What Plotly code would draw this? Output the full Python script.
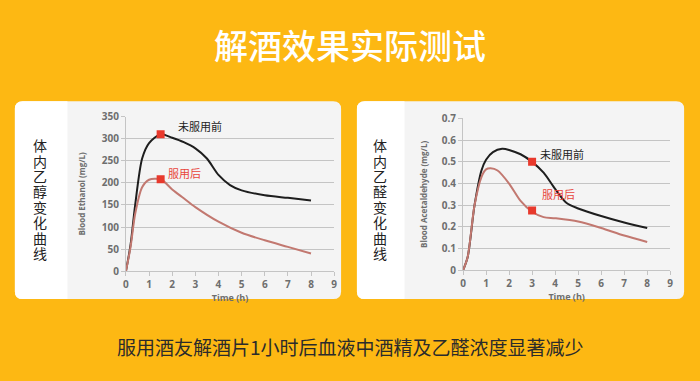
import plotly.graph_objects as go

# ---- data ----
eth_time_before = [0, 0.2, 0.4, 0.7, 1.0, 1.5, 2.0, 2.5, 3.0, 3.5, 4.0, 4.5, 5.0, 6.0, 7.0, 8.0]
eth_before = [0, 60, 150, 255, 290, 310, 302, 292, 278, 255, 218, 195, 183, 172, 166, 160]
eth_time_after = [0, 0.2, 0.4, 0.7, 1.0, 1.5, 2.0, 2.5, 3.0, 4.0, 5.0, 6.0, 7.0, 8.0]
eth_after = [0, 55, 130, 190, 207, 208, 185, 165, 145, 112, 87, 70, 55, 40]

ace_time_before = [0, 0.2, 0.5, 0.8, 1.0, 1.3, 1.7, 2.0, 2.5, 3.0, 3.5, 4.0, 4.5, 5.0, 6.0, 7.0, 8.0]
ace_before = [0, 0.06, 0.3, 0.46, 0.51, 0.545, 0.56, 0.555, 0.535, 0.5, 0.45, 0.375, 0.31, 0.285, 0.25, 0.22, 0.195]
ace_time_after = [0, 0.2, 0.5, 0.8, 1.0, 1.2, 1.5, 2.0, 2.5, 3.0, 3.5, 4.0, 5.0, 6.0, 7.0, 8.0]
ace_after = [0, 0.06, 0.3, 0.43, 0.465, 0.47, 0.46, 0.4, 0.32, 0.27, 0.245, 0.24, 0.225, 0.195, 0.16, 0.13]

eth_marker_x = [1.5, 1.5]
eth_marker_y = [310, 208]
ace_marker_x = [3, 3]
ace_marker_y = [0.5, 0.275]

x_ticks = list(range(0, 10))
eth_ticks = [0, 50, 100, 150, 200, 250, 300, 350]
ace_ticks = [0, 0.1, 0.2, 0.3, 0.4, 0.5, 0.6, 0.7]
ace_tick_text = ["0", "0.1", "0.2", "0.3", "0.4", "0.5", "0.6", "0.7"]

title_text = "解酒效果实际测试"
bottom_text = "服用酒友解酒片1小时后血液中酒精及乙醛浓度显著减少"
left_label = "体内乙醇变化曲线"
right_label = "体内乙醛变化曲线"
label_before = "未服用前"
label_after = "服用后"

# ---- style ----
ORANGE = "#FDB813"
BLACK_LINE = "#1e1e1e"
RED_LINE = "#c27870"
MARK = "#e8392c"
RED_TEXT = "#e8453c"
GRID = "#c4c4c4"
TICK = "#6e6e6e"
CJK = "Noto Sans CJK SC"

W, H = 700, 381

def px(x):
    return x / W

def py(y):
    return 1 - y / H

fig = go.Figure()

line_kw = dict(shape="spline", smoothing=0.8)
fig.add_trace(go.Scatter(x=eth_time_before, y=eth_before, mode="lines", line=dict(color=BLACK_LINE, width=2, **line_kw), xaxis="x", yaxis="y", hoverinfo="skip"))
fig.add_trace(go.Scatter(x=eth_time_after, y=eth_after, mode="lines", line=dict(color=RED_LINE, width=2, **line_kw), xaxis="x", yaxis="y", hoverinfo="skip"))
fig.add_trace(go.Scatter(x=eth_marker_x, y=eth_marker_y, mode="markers", marker=dict(symbol="square", size=8, color=MARK), xaxis="x", yaxis="y"))

fig.add_trace(go.Scatter(x=ace_time_before, y=ace_before, mode="lines", line=dict(color=BLACK_LINE, width=2, **line_kw), xaxis="x2", yaxis="y2", hoverinfo="skip"))
fig.add_trace(go.Scatter(x=ace_time_after, y=ace_after, mode="lines", line=dict(color=RED_LINE, width=2, **line_kw), xaxis="x2", yaxis="y2", hoverinfo="skip"))
fig.add_trace(go.Scatter(x=ace_marker_x, y=ace_marker_y, mode="markers", marker=dict(symbol="square", size=8, color=MARK), xaxis="x2", yaxis="y2"))

axis_common = dict(
    showline=True, linecolor=GRID, linewidth=1,
    ticks="outside", ticklen=4, tickcolor=GRID,
    tickfont=dict(family="Open Sans", size=10, color=TICK, weight="bold"),
    zeroline=False, fixedrange=True,
)
xtitle_font = dict(family="Open Sans", size=9, color=TICK, weight="bold")
ytitle_font = dict(family="Open Sans", size=8, color=TICK, weight="bold")

fig.update_layout(
    width=W, height=H,
    margin=dict(l=0, r=0, t=0, b=0),
    paper_bgcolor=ORANGE,
    plot_bgcolor="rgba(0,0,0,0)",
    showlegend=False,
    xaxis=dict(domain=[px(124), px(334)], range=[0, 9], tickvals=x_ticks, showgrid=False, anchor="y",
               title=dict(text="Time (h)", font=xtitle_font, standoff=1), **axis_common),
    yaxis=dict(domain=[py(274), py(113)], range=[0, 350], tickvals=eth_ticks, showgrid=True, gridcolor=GRID, anchor="x",
               title=dict(text="Blood Ethanol (mg/L)", font=ytitle_font, standoff=14), **axis_common),
    xaxis2=dict(domain=[px(464), px(673)], range=[0, 9], tickvals=x_ticks, showgrid=False, anchor="y2",
                title=dict(text="Time (h)", font=xtitle_font, standoff=1), **axis_common),
    yaxis2=dict(domain=[py(273), py(115)], range=[0, 0.7], tickvals=ace_ticks, ticktext=ace_tick_text, showgrid=True, gridcolor=GRID, anchor="x2",
                title=dict(text="Blood Acetaldehyde (mg/L)", font=ytitle_font, standoff=12), **axis_common),
)

def rounded_rect(x0, y0, x1, y1, r):
    return (f"M {px(x0 + r)} {py(y0)} L {px(x1 - r)} {py(y0)} "
            f"Q {px(x1)} {py(y0)} {px(x1)} {py(y0 + r)} L {px(x1)} {py(y1 - r)} "
            f"Q {px(x1)} {py(y1)} {px(x1 - r)} {py(y1)} L {px(x0 + r)} {py(y1)} "
            f"Q {px(x0)} {py(y1)} {px(x0)} {py(y1 - r)} L {px(x0)} {py(y0 + r)} "
            f"Q {px(x0)} {py(y0)} {px(x0 + r)} {py(y0)} Z")

shapes = []
for (x0, x1, strip) in [(12, 341, 65), (357, 687, 405)]:
    shapes.append(dict(type="path", path=rounded_rect(x0, 97, x1, 303, 8), xref="paper", yref="paper",
                       fillcolor="#f4f4f4", line=dict(width=0), layer="below"))
    shapes.append(dict(type="path",
                       path=(f"M {px(x0 + 8)} {py(97)} L {px(strip)} {py(97)} L {px(strip)} {py(303)} "
                             f"L {px(x0 + 8)} {py(303)} Q {px(x0)} {py(303)} {px(x0)} {py(295)} "
                             f"L {px(x0)} {py(105)} Q {px(x0)} {py(97)} {px(x0 + 8)} {py(97)} Z"),
                       xref="paper", yref="paper", fillcolor="#ffffff", line=dict(width=0), layer="below"))
fig.update_layout(shapes=shapes)

annotations = [
    dict(text=title_text, x=0.5, y=py(38), xref="paper", yref="paper", showarrow=False,
         font=dict(family=CJK, size=34, color="#ffffff", weight=500), xanchor="center", yanchor="middle"),
    dict(text=bottom_text, x=0.5, y=py(352), xref="paper", yref="paper", showarrow=False,
         font=dict(family=CJK, size=19, color="#2b2b2b"), xanchor="center", yanchor="middle"),
    dict(text=label_before, x=2.15, y=328, xref="x", yref="y", showarrow=False, xanchor="left",
         font=dict(family=CJK, size=11, color="#222222")),
    dict(text=label_after, x=1.75, y=222, xref="x", yref="y", showarrow=False, xanchor="left",
         font=dict(family=CJK, size=11, color=RED_TEXT)),
    dict(text=label_before, x=3.25, y=0.536, xref="x2", yref="y2", showarrow=False, xanchor="left",
         font=dict(family=CJK, size=11, color="#222222")),
    dict(text=label_after, x=3.35, y=0.35, xref="x2", yref="y2", showarrow=False, xanchor="left",
         font=dict(family=CJK, size=11, color=RED_TEXT)),
]
# vertical side labels, one character per annotation
for label, cx in [(left_label, 37), (right_label, 380)]:
    for i, ch in enumerate(label):
        annotations.append(dict(text=ch, x=px(cx), y=py(143 + i * 16), xref="paper", yref="paper",
                                showarrow=False, xanchor="center", yanchor="middle",
                                font=dict(family=CJK, size=14, color="#222222")))
fig.update_layout(annotations=annotations)

fig.write_html("out.html", config={"displayModeBar": False},
               post_script="document.body.style.margin='0';document.body.style.overflow='hidden';")
